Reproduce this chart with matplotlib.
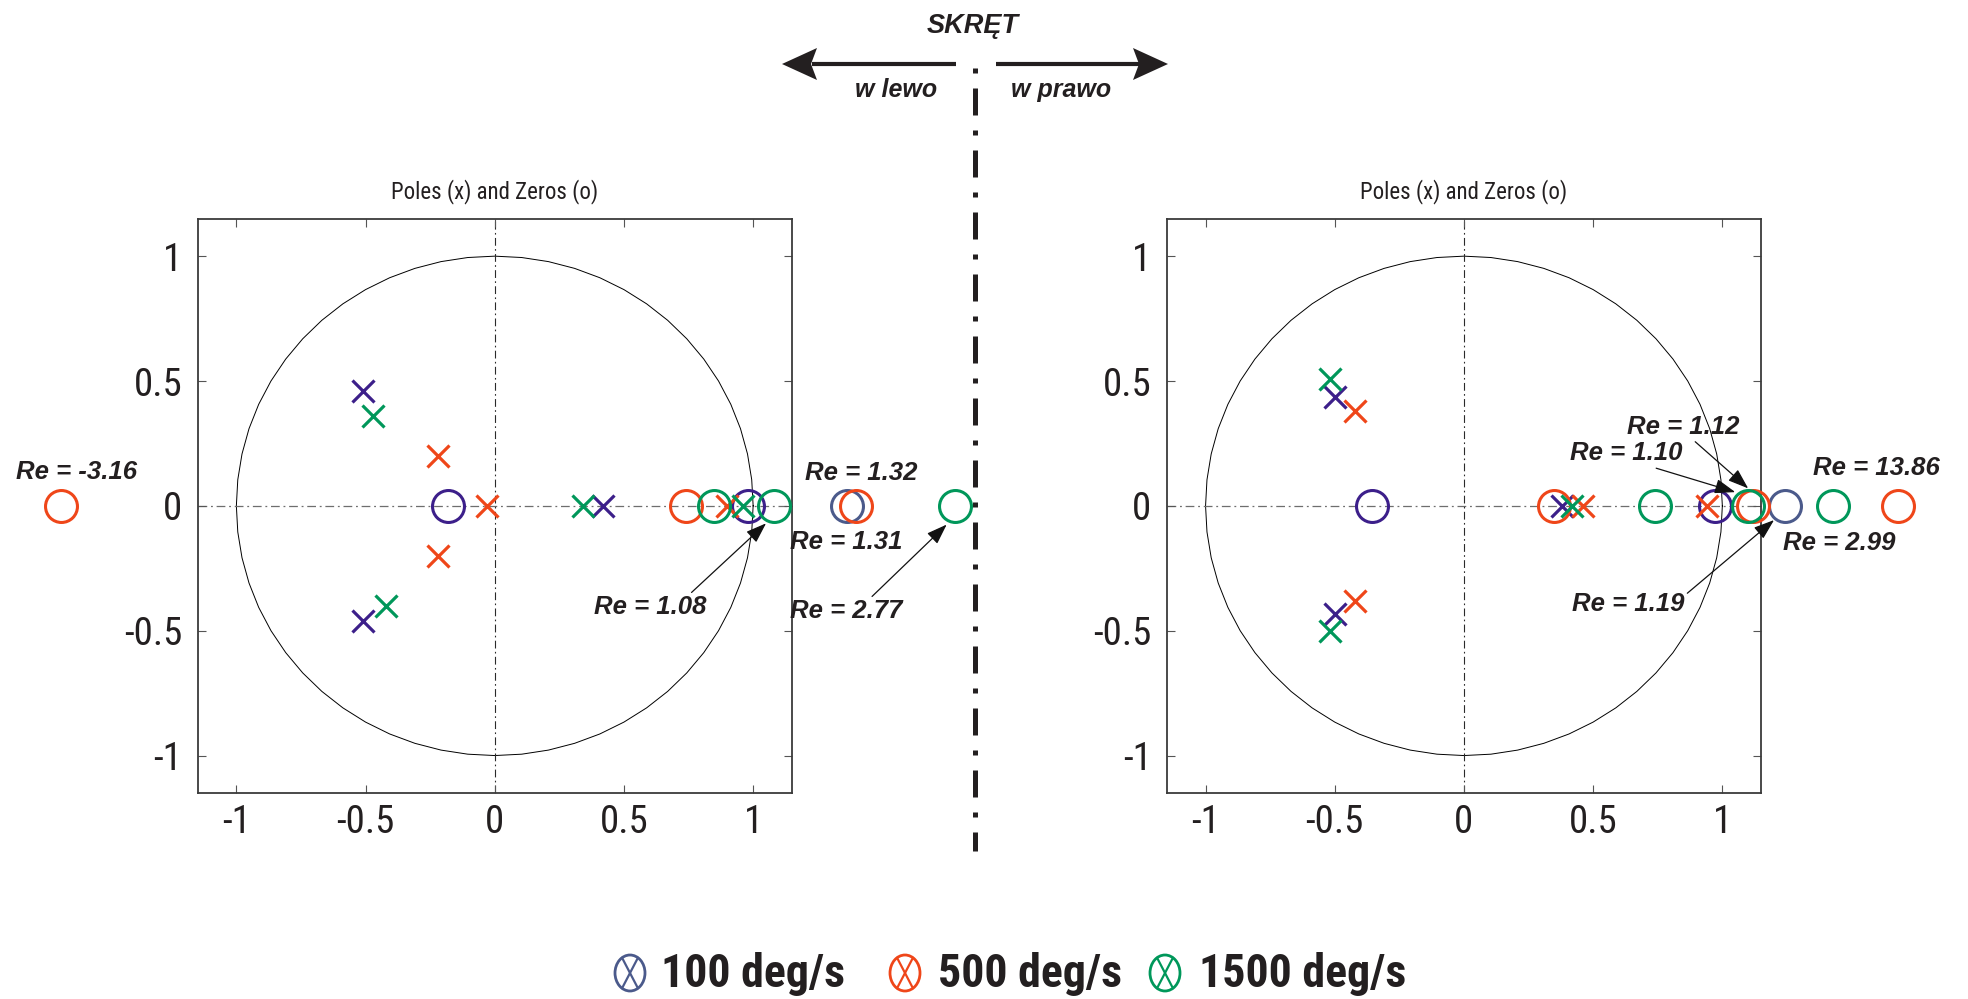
import numpy as np
import matplotlib
matplotlib.use("Agg")
import matplotlib.pyplot as plt
from matplotlib import font_manager as fm
from matplotlib.patches import Ellipse, Polygon
from matplotlib.lines import Line2D

# ---------------- data ----------------
SPEED_LABELS = ["100 deg/s", "500 deg/s", "1500 deg/s"]
TICKS = [-1, -0.5, 0, 0.5, 1]
TICK_LABELS = ["-1", "-0.5", "0", "0.5", "1"]
PANEL_TITLE = "Poles (x) and Zeros (o)"

# left turn (w lewo): poles (re, im) and real zeros for each speed
L_POLE_RE_100 = [-0.51, -0.51, 0.42]
L_POLE_IM_100 = [0.46, -0.46, 0.0]
L_POLE_RE_500 = [-0.22, -0.22, -0.03, 0.90]
L_POLE_IM_500 = [0.20, -0.20, 0.0, 0.0]
L_POLE_RE_1500 = [-0.47, -0.42, 0.34, 0.96]
L_POLE_IM_1500 = [0.36, -0.40, 0.0, 0.0]
L_ZERO_100 = [-0.18, 0.98, 1.31]
L_ZERO_500 = [0.74, 1.32, -3.16]
L_ZERO_1500 = [0.85, 1.08, 2.77]

# right turn (w prawo)
R_POLE_RE_100 = [-0.50, -0.50, 0.38]
R_POLE_IM_100 = [0.435, -0.435, 0.0]
R_POLE_RE_500 = [-0.42, -0.42, 0.46, 0.94]
R_POLE_IM_500 = [0.38, -0.38, 0.0, 0.0]
R_POLE_RE_1500 = [-0.52, -0.52, 0.42]
R_POLE_IM_1500 = [0.51, -0.50, 0.0]
R_ZERO_100 = [-0.355, 0.97, 1.19]
R_ZERO_500 = [0.35, 1.12, 13.86]
R_ZERO_1500 = [0.74, 1.10, 2.99]

# ---------------- style ----------------
PURPLE = "#3c1f8a"
RED = "#ef4619"
GREEN = "#00975a"
SLATE = "#4b5a8b"
PLOT_COLORS = [PURPLE, RED, GREEN]
PARK_COLORS = [SLATE, RED, GREEN]
LEGEND_COLORS = [SLATE, RED, GREEN]
INK = "#231f20"

avail = {f.name for f in fm.fontManager.ttflist}
NARROW = None
for cand in ["Liberation Sans Narrow", "Arial Narrow", "Roboto Condensed",
             "Open Sans Condensed"]:
    if cand in avail:
        NARROW = cand
        break
SANS = "Liberation Sans"
if NARROW is None:
    NARROW = SANS
    TICK_FS, TITLE_FS, LEG_FS = 24, 14.5, 29
else:
    TICK_FS, TITLE_FS, LEG_FS = 28, 16.5, 33

LIM = 1.15
# zeros beyond the axis range are parked in a strip beside the axes
L_PARK = {-3.16: -1.677, 1.31: 1.363, 1.32: 1.397, 2.77: 1.781}
R_PARK = {1.19: 1.243, 2.99: 1.430, 13.86: 1.681}

# label placement: value -> (text xy, arrow tail relpos, arrow tip offset from marker)
L_LABELS = {
    -3.16: ((-1.619, 0.135), None, None),
    1.32: ((1.419, 0.131), None, None),
    1.31: ((1.359, -0.145), None, None),
    2.77: ((1.362, -0.422), (0.70, 1.0), (-0.032, -0.075)),
    1.08: ((0.602, -0.406), (0.84, 1.0), (-0.03, -0.07)),
}
R_LABELS = {
    1.12: ((0.848, 0.316), (0.58, 0.0), (-0.02, 0.07)),
    1.10: ((0.630, 0.210), (0.68, 0.0), (-0.05, 0.055)),
    1.19: ((0.636, -0.393), (1.0, 0.85), (-0.043, -0.057)),
    2.99: ((1.452, -0.147), None, None),
    13.86: ((1.598, 0.153), None, None),
}

W, H = 1968, 999
fig = plt.figure(figsize=(W / 100, H / 100), dpi=100)


def px_axes(x0, y_top, w, h):
    return fig.add_axes([x0 / W, 1 - (y_top + h) / H, w / W, h / H])


def draw_panel(ax, poles, zeros, park, labels):
    th = np.linspace(0, 2 * np.pi, 61)
    ax.plot(np.cos(th), np.sin(th), color="black", lw=0.7, zorder=1)
    ax.axhline(0, color="#6e6e6e", lw=0.9, ls=(0, (7, 3, 1.5, 3)), zorder=1)
    ax.axvline(0, color="#2a2a2a", lw=0.8, ls=(0, (7, 3, 1.5, 3)), zorder=1)

    for (pre, pim), zs, col, pcol in zip(poles, zeros, PLOT_COLORS, PARK_COLORS):
        for z in zs:
            c = pcol if z in park else col
            ax.plot([park.get(z, z)], [0], ls="none", marker="o", ms=23, mew=2.2,
                    mfc="none", mec=c, clip_on=False, zorder=3)
        ax.plot(pre, pim, ls="none", marker="x", ms=16, mew=2.3, color=col,
                clip_on=False, zorder=3)

    for v, (txt, relpos, tip) in labels.items():
        label = f"Re = {v:.2f}"
        kw = dict(ha="center", va="center", fontsize=18.5, fontweight="bold",
                  fontstyle="italic", color=INK, family=SANS, annotation_clip=False,
                  zorder=5)
        if relpos is None:
            ax.annotate(label, xy=txt, xytext=txt, **kw)
        else:
            mx = park.get(v, v)
            ax.annotate(label, xy=(mx + tip[0], tip[1]), xytext=txt,
                        arrowprops=dict(arrowstyle="-|>,head_length=0.9,head_width=0.32",
                                        lw=0.9, color="#111111", relpos=relpos,
                                        shrinkA=0, shrinkB=0, mutation_scale=14),
                        **kw)

    ax.set_xlim(-LIM, LIM)
    ax.set_ylim(-LIM, LIM)
    ax.set_xticks(TICKS)
    ax.set_yticks(TICKS)
    ax.set_xticklabels(TICK_LABELS, family=NARROW, fontsize=TICK_FS, color=INK)
    ax.set_yticklabels(TICK_LABELS, family=NARROW, fontsize=TICK_FS, color=INK)
    ax.tick_params(direction="in", length=6, width=0.8, color="#555555",
                   top=True, right=True, pad=8)
    ax.tick_params(axis="y", pad=11)
    for s in ax.spines.values():
        s.set_color("#3a3a3a")
        s.set_linewidth(1.3)
    ax.text(0.5, 1.048, PANEL_TITLE, transform=ax.transAxes, ha="center",
            va="center", fontsize=TITLE_FS, family=NARROW, color=INK)


ax_l = px_axes(197.6, 218.7, 594.3, 574.3)
ax_r = px_axes(1166.8, 218.7, 594.3, 574.3)

draw_panel(ax_l,
           [(L_POLE_RE_100, L_POLE_IM_100), (L_POLE_RE_500, L_POLE_IM_500),
            (L_POLE_RE_1500, L_POLE_IM_1500)],
           [L_ZERO_100, L_ZERO_500, L_ZERO_1500], L_PARK, L_LABELS)
draw_panel(ax_r,
           [(R_POLE_RE_100, R_POLE_IM_100), (R_POLE_RE_500, R_POLE_IM_500),
            (R_POLE_RE_1500, R_POLE_IM_1500)],
           [R_ZERO_100, R_ZERO_500, R_ZERO_1500], R_PARK, R_LABELS)

# ---------------- overlay in pixel coordinates ----------------
ov = fig.add_axes([0, 0, 1, 1])
ov.set_xlim(0, W)
ov.set_ylim(H, 0)
ov.axis("off")
ov.patch.set_alpha(0)

# turn direction header
head_kw = dict(va="baseline", fontweight="bold", fontstyle="italic",
               family=SANS, color=INK)
ov.text(973, 33, "SKRĘT", ha="center", fontsize=19.5, **head_kw)
ov.text(896, 97, "w lewo", ha="center", fontsize=18, **head_kw)
ov.text(1061, 97, "w prawo", ha="center", fontsize=18, **head_kw)

ay = 64
ov.add_line(Line2D([956, 812], [ay, ay], color=INK, lw=3.0, solid_capstyle="butt"))
ov.add_patch(Polygon([(782, ay), (817, ay - 16), (811, ay), (817, ay + 16)],
                     closed=True, color=INK, lw=0))
ov.add_line(Line2D([996, 1140], [ay, ay], color=INK, lw=3.0, solid_capstyle="butt"))
ov.add_patch(Polygon([(1168, ay), (1133, ay - 16), (1139, ay), (1133, ay + 16)],
                     closed=True, color=INK, lw=0))

# dash-dot divider between the two turn directions
ov.add_line(Line2D([975, 975], [68, 851], color=INK, lw=3.6,
                   ls=(0, (1.0, 3.0, 5.4, 3.0)), dash_capstyle="butt"))

# legend
leg_sym_x = [630, 905, 1165]
leg_txt_x = [661, 938, 1199]
leg_y = 973
for sx, tx, col, lab in zip(leg_sym_x, leg_txt_x, LEGEND_COLORS, SPEED_LABELS):
    a, b = 15, 18
    ov.add_patch(Ellipse((sx, leg_y), 2 * a, 2 * b, fill=False, ec=col, lw=2.0))
    ca, sa = np.cos(np.radians(58)), np.sin(np.radians(58))
    ov.add_line(Line2D([sx - a * ca, sx + a * ca], [leg_y - b * sa, leg_y + b * sa],
                       color=col, lw=1.6))
    ov.add_line(Line2D([sx + a * ca, sx - a * ca], [leg_y - b * sa, leg_y + b * sa],
                       color=col, lw=1.6))
    ov.text(tx, leg_y + 1, lab, ha="left", va="center", fontsize=LEG_FS,
            fontweight="bold", family=NARROW, color=INK)

fig.savefig("out.png", dpi=100, facecolor="white")
